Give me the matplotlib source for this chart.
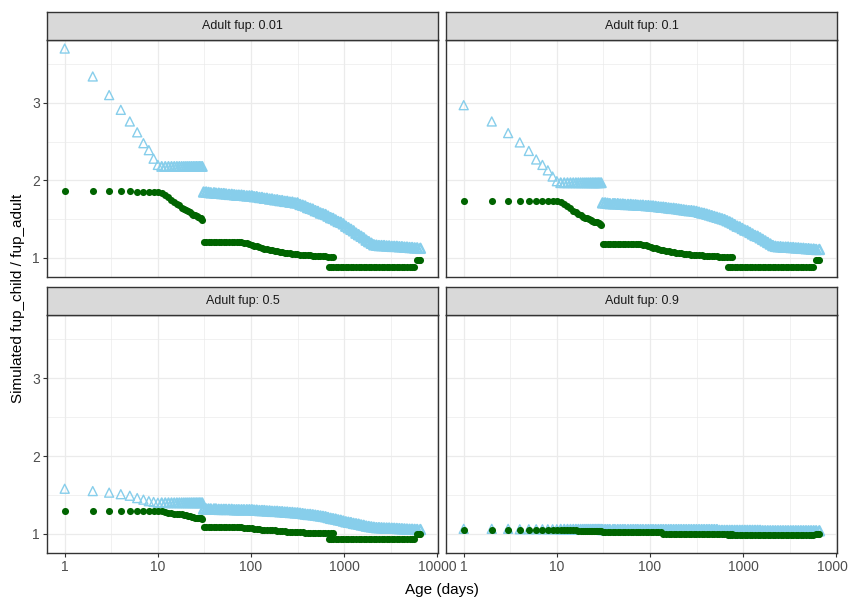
import matplotlib.pyplot as plt

W, H = 848, 601

days_early = [1, 2, 3, 4, 5, 6, 7, 8, 9, 10, 11, 12, 13, 14, 15, 16, 17, 18, 19, 20,
              21, 22, 23, 24, 25, 26, 27, 28, 29, 30]
ages_mid = [31, 33, 35, 37, 40, 42, 45, 48, 51, 54, 58, 62, 66, 70, 74, 79, 84, 90, 96,
            102, 108, 115, 123, 131, 139, 148, 158, 168, 179, 191, 203, 216, 230, 245,
            261, 278, 296, 315, 336, 358, 381, 406, 432, 460, 490, 522, 556, 592, 630,
            671, 715, 760]
ages_late = [809, 862, 918, 978, 1041, 1109, 1181, 1258, 1340, 1427, 1520, 1619, 1724,
             1836, 1955, 2082, 2218, 2362, 2515, 2679, 2853, 3038, 3236, 3446, 3670,
             3909, 4163, 4433, 4722, 5029, 5356, 5704, 6075, 6570]
ages_low = [680, 715, 760, 809, 862, 918, 978, 1041, 1109, 1181, 1258, 1340, 1427, 1520,
            1619, 1724, 1836, 1955, 2082, 2218, 2362, 2515, 2679, 2853, 3038, 3236, 3446,
            3670, 3909, 4163, 4433, 4722, 5029, 5356, 5550]
ages_tail = [6100, 6300, 6570]

panel_titles = ['Adult fup: 0.01', 'Adult fup: 0.1', 'Adult fup: 0.5', 'Adult fup: 0.9']

# ---- Adult fup 0.01
tri_early_001 = [3.70, 3.34, 3.10, 2.91, 2.76, 2.62, 2.48, 2.39, 2.28, 2.20, 2.18, 2.18,
                 2.18, 2.18, 2.18, 2.18, 2.18, 2.18, 2.18, 2.18, 2.18, 2.18, 2.18, 2.18,
                 2.18, 2.18, 2.18, 2.18, 2.18, 2.18]
tri_mid_001 = [1.85, 1.85, 1.845, 1.84, 1.84, 1.835, 1.835, 1.83, 1.83, 1.825, 1.82, 1.82,
               1.815, 1.81, 1.81, 1.81, 1.805, 1.80, 1.80, 1.80, 1.79, 1.79, 1.78, 1.78,
               1.77, 1.77, 1.76, 1.76, 1.75, 1.75, 1.74, 1.74, 1.73, 1.73, 1.72, 1.72,
               1.71, 1.71, 1.69, 1.68, 1.67, 1.65, 1.64, 1.63, 1.61, 1.60, 1.58, 1.57,
               1.56, 1.54, 1.52, 1.51]
tri_late_001 = [1.49, 1.47, 1.46, 1.44, 1.41, 1.39, 1.37, 1.35, 1.32, 1.30, 1.28, 1.26,
                1.23, 1.21, 1.19, 1.17, 1.165, 1.16, 1.16, 1.16, 1.155, 1.155, 1.15, 1.15,
                1.15, 1.145, 1.145, 1.14, 1.14, 1.135, 1.135, 1.13, 1.13, 1.125]
dot_early_001 = [1.86, 1.86, 1.86, 1.86, 1.86, 1.85, 1.85, 1.85, 1.85, 1.85, 1.84, 1.81,
                 1.78, 1.75, 1.72, 1.70, 1.68, 1.65, 1.63, 1.62, 1.60, 1.59, 1.57, 1.56,
                 1.55, 1.54, 1.53, 1.52, 1.51, 1.49]
dot_mid_001 = [1.21, 1.21, 1.21, 1.21, 1.21, 1.21, 1.21, 1.21, 1.21, 1.21, 1.21, 1.21,
               1.21, 1.21, 1.21, 1.20, 1.195, 1.19, 1.18, 1.17, 1.16, 1.15, 1.14, 1.13,
               1.12, 1.115, 1.105, 1.10, 1.09, 1.085, 1.08, 1.075, 1.07, 1.065, 1.06,
               1.055, 1.055, 1.05, 1.045, 1.04, 1.04, 1.035, 1.035, 1.03, 1.03, 1.025,
               1.025, 1.02, 1.02, 1.015, 1.015, 1.01]
dot_low_001 = [0.88] * 35
dot_tail_001 = [0.975, 0.975, 0.975]

# ---- Adult fup 0.1
tri_early_01 = [2.97, 2.76, 2.61, 2.49, 2.38, 2.27, 2.20, 2.13, 2.05, 1.99, 1.97, 1.97,
                1.97, 1.97, 1.97, 1.97, 1.97, 1.97, 1.97, 1.97, 1.97, 1.97, 1.97, 1.97,
                1.97, 1.97, 1.97, 1.97, 1.97, 1.97]
tri_mid_01 = [1.71, 1.71, 1.705, 1.70, 1.70, 1.70, 1.70, 1.695, 1.695, 1.69, 1.69, 1.69,
              1.685, 1.685, 1.68, 1.68, 1.68, 1.675, 1.675, 1.67, 1.67, 1.665, 1.66,
              1.655, 1.655, 1.65, 1.645, 1.64, 1.64, 1.635, 1.63, 1.625, 1.62, 1.615,
              1.61, 1.61, 1.605, 1.60, 1.59, 1.58, 1.575, 1.565, 1.555, 1.545, 1.535,
              1.525, 1.515, 1.505, 1.495, 1.48, 1.465, 1.45]
tri_late_01 = [1.43, 1.41, 1.40, 1.38, 1.36, 1.35, 1.33, 1.31, 1.29, 1.28, 1.26, 1.24,
               1.22, 1.20, 1.18, 1.16, 1.15, 1.145, 1.145, 1.14, 1.14, 1.14, 1.135, 1.135,
               1.13, 1.13, 1.125, 1.125, 1.12, 1.12, 1.115, 1.115, 1.11, 1.11]
dot_early_01 = [1.73, 1.73, 1.73, 1.73, 1.73, 1.73, 1.73, 1.73, 1.73, 1.73, 1.72, 1.70,
                1.67, 1.64, 1.61, 1.59, 1.57, 1.55, 1.53, 1.52, 1.51, 1.50, 1.49, 1.48,
                1.47, 1.47, 1.46, 1.45, 1.44, 1.43]
dot_mid_01 = [1.18, 1.18, 1.18, 1.18, 1.18, 1.18, 1.18, 1.18, 1.18, 1.18, 1.18, 1.18,
              1.18, 1.18, 1.18, 1.175, 1.17, 1.165, 1.155, 1.145, 1.135, 1.125, 1.115,
              1.105, 1.10, 1.09, 1.085, 1.08, 1.075, 1.07, 1.065, 1.06, 1.055, 1.05,
              1.05, 1.045, 1.045, 1.04, 1.035, 1.035, 1.03, 1.03, 1.025, 1.025, 1.02,
              1.02, 1.015, 1.015, 1.01, 1.01, 1.01, 1.01]
dot_low_01 = [0.88] * 35
dot_tail_01 = [0.975, 0.975, 0.975]

# ---- Adult fup 0.5
tri_early_05 = [1.58, 1.55, 1.53, 1.51, 1.49, 1.46, 1.44, 1.42, 1.41, 1.40, 1.40, 1.40,
                1.40, 1.40, 1.40, 1.40, 1.40, 1.40, 1.40, 1.40, 1.40, 1.40, 1.40, 1.40,
                1.40, 1.40, 1.40, 1.40, 1.40, 1.40]
tri_mid_05 = [1.32, 1.32, 1.32, 1.32, 1.32, 1.32, 1.315, 1.315, 1.315, 1.315, 1.315,
              1.315, 1.31, 1.31, 1.31, 1.31, 1.31, 1.31, 1.31, 1.31, 1.305, 1.305, 1.30,
              1.30, 1.30, 1.295, 1.295, 1.29, 1.29, 1.29, 1.285, 1.285, 1.28, 1.28, 1.275,
              1.275, 1.27, 1.27, 1.265, 1.26, 1.255, 1.25, 1.25, 1.245, 1.24, 1.235, 1.23,
              1.225, 1.22, 1.21, 1.20, 1.195]
tri_late_05 = [1.19, 1.18, 1.175, 1.165, 1.155, 1.15, 1.145, 1.135, 1.13, 1.125, 1.115,
               1.11, 1.10, 1.095, 1.09, 1.085, 1.08, 1.08, 1.078, 1.076, 1.075, 1.075,
               1.073, 1.072, 1.07, 1.068, 1.066, 1.064, 1.062, 1.06, 1.06, 1.058, 1.057,
               1.056]
dot_early_05 = [1.29, 1.29, 1.29, 1.29, 1.29, 1.29, 1.29, 1.29, 1.29, 1.29, 1.29, 1.28,
                1.27, 1.27, 1.26, 1.26, 1.25, 1.25, 1.24, 1.24, 1.23, 1.23, 1.22, 1.22,
                1.21, 1.21, 1.21, 1.20, 1.20, 1.195]
dot_mid_05 = [1.09, 1.09, 1.09, 1.09, 1.09, 1.09, 1.09, 1.09, 1.09, 1.09, 1.09, 1.09,
              1.09, 1.09, 1.09, 1.085, 1.08, 1.08, 1.075, 1.07, 1.065, 1.065, 1.06,
              1.055, 1.055, 1.05, 1.05, 1.045, 1.045, 1.04, 1.04, 1.035, 1.035, 1.03,
              1.03, 1.025, 1.025, 1.02, 1.02, 1.02, 1.015, 1.015, 1.015, 1.015, 1.015,
              1.015, 1.01, 1.01, 1.01, 1.01, 1.01, 1.01]
dot_low_05 = [0.935] * 35
dot_tail_05 = [1.00, 1.00, 1.00]

# ---- Adult fup 0.9
tri_early_09 = [1.065, 1.065, 1.065, 1.06, 1.06, 1.06, 1.06, 1.06, 1.06, 1.06, 1.06, 1.06,
                1.06, 1.06, 1.06, 1.06, 1.06, 1.06, 1.06, 1.06, 1.06, 1.06, 1.06, 1.06,
                1.06, 1.06, 1.06, 1.06, 1.06, 1.06]
tri_mid_09 = [1.055] * 46 + [1.045] * 6
tri_late_09 = [1.045] * 11 + [1.04] * 23
dot_early_09 = [1.047, 1.047, 1.047, 1.047, 1.047, 1.047, 1.047, 1.047, 1.047, 1.047,
                1.047, 1.047, 1.047, 1.047, 1.047, 1.047, 1.035, 1.035, 1.035, 1.035,
                1.035, 1.035, 1.035, 1.035, 1.035, 1.035, 1.035, 1.035, 1.035, 1.035]
dot_mid_09 = [1.03] * 24 + [1.005] * 28
dot_low_09 = [0.98] * 35
dot_tail_09 = [1.00, 1.00, 1.00]

tri_early = [tri_early_001, tri_early_01, tri_early_05, tri_early_09]
tri_mid = [tri_mid_001, tri_mid_01, tri_mid_05, tri_mid_09]
tri_late = [tri_late_001, tri_late_01, tri_late_05, tri_late_09]
dot_early = [dot_early_001, dot_early_01, dot_early_05, dot_early_09]
dot_mid = [dot_mid_001, dot_mid_01, dot_mid_05, dot_mid_09]
dot_low = [dot_low_001, dot_low_01, dot_low_05, dot_low_09]
dot_tail = [dot_tail_001, dot_tail_01, dot_tail_05, dot_tail_09]

BLUE = '#87CEEB'
GREEN = '#006400'
GRID = '#EBEBEB'
DARK = '#333333'

plt.rcParams['font.family'] = ['Liberation Sans', 'DejaVu Sans']

fig = plt.figure(figsize=(W / 100, H / 100), dpi=100)

# panel boxes in pixels: (left, right), (top, bottom); strips sit on top
col_x = [(47, 438), (446, 837)]
row_y = [(40, 277), (315, 553)]
strip_h = 28


def px_box(l, r, t, b):
    return [l / W, 1 - b / H, (r - l) / W, (b - t) / H]


for i in range(4):
    row, col = divmod(i, 2)
    l, r = col_x[col]
    t, b = row_y[row]
    ax = fig.add_axes(px_box(l, r, t, b))
    ax.set_xscale('log')

    tri_kw = dict(marker='^', s=42, facecolors='none', edgecolors=BLUE, zorder=3)
    dot_kw = dict(s=26, color=GREEN, linewidths=0, zorder=4)
    ax.scatter(days_early[:10], tri_early[i][:10], linewidths=1.0, **tri_kw)
    # the denser days blur into a solid band in the original
    ax.scatter(days_early[10:], tri_early[i][10:], linewidths=1.4, **tri_kw)
    ax.scatter(ages_mid, tri_mid[i], linewidths=1.8, **tri_kw)
    ax.scatter(ages_late, tri_late[i], linewidths=1.8, **tri_kw)
    ax.scatter(days_early, dot_early[i], **dot_kw)
    ax.scatter(ages_mid, dot_mid[i], **dot_kw)
    ax.scatter(ages_low, dot_low[i], **dot_kw)
    ax.scatter(ages_tail, dot_tail[i], **dot_kw)

    ax.set_xticks([1, 10, 100, 1000, 10000])
    ax.set_xticks([10 ** (k + 0.5) for k in range(-1, 4)], minor=True)
    ax.set_yticks([1, 2, 3])
    ax.set_yticks([1.5, 2.5, 3.5], minor=True)
    ax.set_xlim(10 ** -0.19, 10 ** 4.007)
    ax.set_ylim(0.755, 3.81)
    ax.grid(True, which='major', color=GRID, linewidth=0.9, zorder=0)
    ax.grid(True, which='minor', color=GRID, linewidth=0.5, zorder=0)
    ax.set_axisbelow(True)
    ax.tick_params(which='minor', length=0)
    ax.tick_params(which='major', length=3, color=DARK, labelsize=10,
                   labelcolor='#4D4D4D', pad=2)

    if row == 0:
        ax.tick_params(axis='x', which='major', bottom=False, labelbottom=False)
    else:
        ax.set_xticklabels(['1', '10', '100', '1000', '10000'])
    if col == 1:
        ax.tick_params(axis='y', which='major', left=False, labelleft=False)
    else:
        ax.set_yticklabels(['1', '2', '3'])

    for sp in ax.spines.values():
        sp.set_color(DARK)
        sp.set_linewidth(1.0)

    # facet strip
    sax = fig.add_axes(px_box(l, r, t - strip_h, t))
    sax.set_xticks([])
    sax.set_yticks([])
    sax.set_facecolor('#D9D9D9')
    for sp in sax.spines.values():
        sp.set_color(DARK)
        sp.set_linewidth(1.0)
    sax.text(0.5, 0.5, panel_titles[i], ha='center', va='center', fontsize=9,
             color='#1A1A1A', transform=sax.transAxes)

fig.text(442 / W, 1 - 590 / H, 'Age (days)', ha='center', va='center', fontsize=11)
fig.text(18 / W, 1 - 298 / H, 'Simulated fup_child / fup_adult', ha='center',
         va='center', rotation=90, fontsize=11)

fig.savefig('out.png', dpi=100)
